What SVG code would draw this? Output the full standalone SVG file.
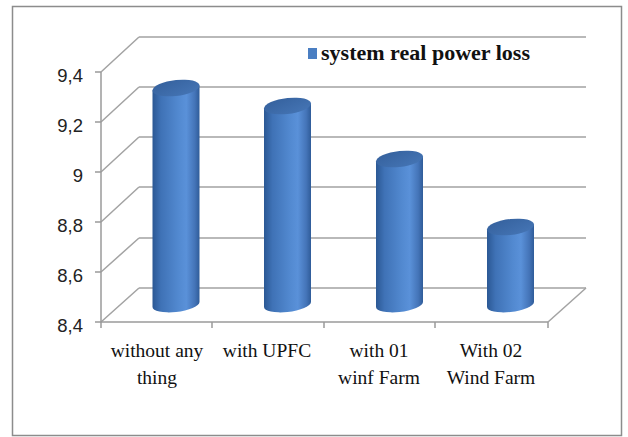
<svg xmlns="http://www.w3.org/2000/svg" width="628" height="437" viewBox="0 0 628 437">
  <defs>
    <linearGradient id="body" x1="0" y1="0" x2="1" y2="0">
      <stop offset="0" stop-color="#2b5894"/>
      <stop offset="0.18" stop-color="#3f72b6"/>
      <stop offset="0.55" stop-color="#5289d0"/>
      <stop offset="0.72" stop-color="#5a91d9"/>
      <stop offset="0.9" stop-color="#4474b8"/>
      <stop offset="1" stop-color="#2f5c99"/>
    </linearGradient>
    <linearGradient id="top" x1="0" y1="0" x2="1" y2="1">
      <stop offset="0" stop-color="#34609c"/>
      <stop offset="1" stop-color="#4676b6"/>
    </linearGradient>
    <style>
      .grid { stroke: #a3a3a3; stroke-width: 1.5; fill: none; }
      .axis { stroke: #9a9a9a; stroke-width: 1.5; fill: none; }
      .ylab { font-family: "Liberation Sans", Arial, sans-serif; font-size: 18.5px; fill: #222; text-anchor: end; }
      .xlab { font-family: "Liberation Serif", "Times New Roman", serif; font-size: 19.5px; fill: #111; text-anchor: middle; }
      .legend { font-family: "Liberation Serif", "Times New Roman", serif; font-size: 21px; font-weight: bold; fill: #111; }
    </style>
  </defs>

  <rect x="0" y="0" width="628" height="437" fill="#ffffff"/>
  <!-- chart frame -->
  <rect x="12.5" y="6.5" width="609" height="429" fill="#ffffff" stroke="#8c8c8c" stroke-width="1.5"/>

  <!-- back wall gridlines and side diagonals -->
  <g id="grid">
    <path class="grid" d="M139,37 H586 M139,87 H586 M139,137 H586 M139,187 H586 M139,238 H586 M139,288 H586"/>
    <path class="grid" d="M101,72 L139,37 M101,122 L139,87 M101,172 L139,137 M101,222 L139,187 M101,272 L139,238 M101,322 L139,288"/>
    <!-- floor -->
    <path class="grid" d="M548,322 L586,288"/>
  </g>

  <!-- axes and ticks -->
  <g id="axes">
    <path class="axis" d="M101,72 V322 H548"/>
    <path class="axis" d="M95,72 H101 M95,122 H101 M95,172 H101 M95,222 H101 M95,272 H101 M95,322 H101"/>
    <path class="axis" d="M101,322 V328 M212,322 V328 M324,322 V328 M435,322 V328 M548,322 V328"/>
  </g>

  <!-- value axis labels -->
  <g id="y-labels">
    <text class="ylab" x="83" y="82">9,4</text>
    <text class="ylab" x="83" y="132">9,2</text>
    <text class="ylab" x="83" y="182">9</text>
    <text class="ylab" x="83" y="232">8,8</text>
    <text class="ylab" x="83" y="282">8,6</text>
    <text class="ylab" x="83" y="332">8,4</text>
  </g>

  <!-- cylinders -->
  <g id="bar-without-any-thing" transform="translate(176,0) skewY(-6)">
    <path d="M-23.5,88 V304.5 A23.5,7.5 0 0 0 23.5,304.5 V88 Z" fill="url(#body)"/>
    <ellipse cx="0" cy="88" rx="23.5" ry="8" fill="url(#top)"/>
  </g>
  <g id="bar-with-upfc" transform="translate(287.5,0) skewY(-6)">
    <path d="M-23.5,106 V304.5 A23.5,7.5 0 0 0 23.5,304.5 V106 Z" fill="url(#body)"/>
    <ellipse cx="0" cy="106" rx="23.5" ry="8" fill="url(#top)"/>
  </g>
  <g id="bar-with-01-wind-farm" transform="translate(399.5,0) skewY(-6)">
    <path d="M-23.5,159 V304.5 A23.5,7.5 0 0 0 23.5,304.5 V159 Z" fill="url(#body)"/>
    <ellipse cx="0" cy="159" rx="23.5" ry="8" fill="url(#top)"/>
  </g>
  <g id="bar-with-02-wind-farm" transform="translate(510.5,0) skewY(-6)">
    <path d="M-23.5,227 V304.5 A23.5,7.5 0 0 0 23.5,304.5 V227 Z" fill="url(#body)"/>
    <ellipse cx="0" cy="227" rx="23.5" ry="8" fill="url(#top)"/>
  </g>

  <!-- category labels -->
  <g id="x-labels">
    <text class="xlab" x="157" y="357">without any</text>
    <text class="xlab" x="157" y="384">thing</text>
    <text class="xlab" x="267" y="357">with UPFC</text>
    <text class="xlab" x="379" y="357">with 01</text>
    <text class="xlab" x="379" y="384">winf Farm</text>
    <text class="xlab" x="491" y="357">With 02</text>
    <text class="xlab" x="491" y="384">Wind Farm</text>
  </g>

  <!-- legend -->
  <g id="legend">
    <rect x="308" y="48" width="9" height="11" fill="#4a7ec2"/>
    <text class="legend" x="321" y="60" textLength="209" lengthAdjust="spacingAndGlyphs">system real power loss</text>
  </g>
</svg>
